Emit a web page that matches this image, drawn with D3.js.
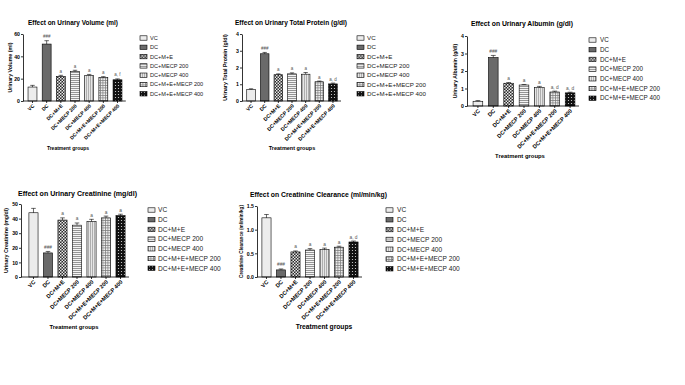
<!DOCTYPE html>
<html><head><meta charset="utf-8">
<script src="https://cdn.jsdelivr.net/npm/d3@7"></script>
<style>body{margin:0;background:#fff}svg{display:block}text{font-family:"Liberation Sans",Arial,sans-serif}</style>
</head><body><svg id="c" width="685" height="385"></svg>
<script>
const categories = ["VC","DC","DC+M+E","DC+MECP 200","DC+MECP 400","DC+M+E+MECP 200","DC+M+E+MECP 400"];

const volumeMean = [12.5, 51, 22, 26.5, 23, 21, 19];
const volumeErr  = [1.5, 3, 1, 1, 0.8, 0.8, 0.8];
const volumeSig  = ["", "###", "a", "a", "a", "a", "a, f"];
const volumeTicks = [0, 20, 40, 60];

const proteinMean = [0.68, 2.82, 1.57, 1.62, 1.6, 1.15, 1.02];
const proteinErr  = [0.05, 0.08, 0.05, 0.06, 0.1, 0.04, 0.05];
const proteinSig  = ["", "###", "a", "a", "a", "a", "a, d"];
const proteinTicks = [0, 1, 2, 3, 4];

const albuminMean = [0.27, 2.77, 1.3, 1.2, 1.05, 0.8, 0.75];
const albuminErr  = [0.04, 0.12, 0.04, 0.03, 0.07, 0.05, 0.04];
const albuminSig  = ["", "###", "a", "a", "a", "a, d", "a, d"];
const albuminTicks = [0, 1, 2, 3, 4];

const creatMean = [44, 16.5, 39, 35.5, 38, 40.5, 42];
const creatErr  = [3, 1, 1.5, 1.5, 1.5, 1.2, 1];
const creatSig  = ["", "###", "a", "a", "a", "a", "a"];
const creatTicks = [0, 10, 20, 30, 40, 50];

const clearMean = [1.25, 0.15, 0.53, 0.57, 0.58, 0.63, 0.74];
const clearErr  = [0.07, 0.02, 0.02, 0.03, 0.03, 0.02, 0.02];
const clearSig  = ["", "###", "a", "a", "a", "a", "a, d"];
const clearTicks = [0, 0.5, 1.0, 1.5];

const svg = d3.select("#c");
const defs = svg.append("defs");
function pat(id, w, h, build) {
  const p = defs.append("pattern").attr("id", id).attr("patternUnits", "userSpaceOnUse").attr("width", w).attr("height", h);
  build(p);
}
pat("p0", 4, 4, p => p.append("rect").attr("width", 4).attr("height", 4).attr("fill", "#ececec"));
pat("p1", 4, 4, p => p.append("rect").attr("width", 4).attr("height", 4).attr("fill", "#6a6a6a"));
pat("p2", 3, 3, p => {
  p.append("rect").attr("width", 3).attr("height", 3).attr("fill", "#2a2a2a");
  p.append("rect").attr("x", 0).attr("y", 0).attr("width", 1.5).attr("height", 1.5).attr("fill", "#e8e8e8");
  p.append("rect").attr("x", 1.5).attr("y", 1.5).attr("width", 1.5).attr("height", 1.5).attr("fill", "#e8e8e8");
});
pat("p3", 2, 2, p => {
  p.append("rect").attr("width", 2).attr("height", 2).attr("fill", "#f4f4f4");
  p.append("rect").attr("width", 2).attr("height", 0.9).attr("fill", "#8a8a8a");
});
pat("p4", 2, 2, p => {
  p.append("rect").attr("width", 2).attr("height", 2).attr("fill", "#e6e6e6");
  p.append("rect").attr("width", 0.8).attr("height", 2).attr("fill", "#a0a0a0");
});
pat("p5", 2.5, 2.5, p => {
  p.append("rect").attr("width", 2.5).attr("height", 2.5).attr("fill", "#eeeeee");
  p.append("rect").attr("width", 2.5).attr("height", 0.7).attr("fill", "#7a7a7a");
  p.append("rect").attr("width", 0.7).attr("height", 2.5).attr("fill", "#7a7a7a");
});
pat("p6", 3, 3, p => {
  p.append("rect").attr("width", 3).attr("height", 3).attr("fill", "#111");
  p.append("circle").attr("cx", 1.5).attr("cy", 1.5).attr("r", 0.6).attr("fill", "#ddd");
});

function panel(L, title, yLabel, mean, err, sig, ticks, fmt) {
  const g = svg.append("g");
  const x = d3.scaleBand().domain(categories).range(L.xr).paddingInner(0.37).paddingOuter(0.2);
  const y = d3.scaleLinear().domain([0, ticks[ticks.length - 1]]).range([L.y0, L.y1]);
  const bw = x.bandwidth();

  g.selectAll("rect.bar").data(categories).join("rect").attr("class", "bar")
    .attr("x", d => x(d)).attr("y", (d, i) => y(mean[i]))
    .attr("width", bw).attr("height", (d, i) => y(0) - y(mean[i]))
    .attr("fill", (d, i) => `url(#p${i})`).attr("stroke", "#000").attr("stroke-width", 0.6);

  const eb = g.selectAll("g.eb").data(categories).join("g").attr("class", "eb");
  eb.append("line").attr("x1", d => x(d) + bw / 2).attr("x2", d => x(d) + bw / 2)
    .attr("y1", (d, i) => y(mean[i])).attr("y2", (d, i) => y(mean[i] + err[i]))
    .attr("stroke", "#000").attr("stroke-width", 0.6);
  eb.append("line").attr("x1", d => x(d) + bw * 0.25).attr("x2", d => x(d) + bw * 0.75)
    .attr("y1", (d, i) => y(mean[i] + err[i])).attr("y2", (d, i) => y(mean[i] + err[i]))
    .attr("stroke", "#000").attr("stroke-width", 0.6);

  g.selectAll("text.sig").data(categories).join("text").attr("class", "sig")
    .attr("x", d => x(d) + bw / 2).attr("y", (d, i) => y(mean[i] + err[i]) - 2.5)
    .attr("text-anchor", "middle").attr("font-size", L.sfs).attr("fill", "#555")
    .text((d, i) => sig[i]);

  const ya = g.append("g").attr("transform", `translate(${L.ax},0)`)
    .call(d3.axisLeft(y).tickValues(ticks).tickSize(2).tickSizeOuter(0).tickFormat(fmt));
  ya.select(".domain").attr("stroke-width", 0.8);
  ya.selectAll(".tick line").attr("stroke-width", 0.8);
  ya.selectAll("text").attr("font-size", L.tfs).attr("font-weight", "bold")
    .attr("font-family", '"Liberation Sans",Arial,sans-serif').attr("x", -3);

  const xa = g.append("g").attr("transform", `translate(0,${L.y0})`)
    .call(d3.axisBottom(x).tickSize(2).tickSizeOuter(0));
  xa.select(".domain").remove();
  xa.selectAll(".tick line").attr("stroke-width", 0.8);
  g.append("line").attr("x1", L.ax).attr("x2", L.xr[1] + 1).attr("y1", L.y0).attr("y2", L.y0)
    .attr("stroke", "#000").attr("stroke-width", 0.8);
  xa.selectAll("text").attr("x", 0).attr("y", 0).attr("dy", "0.35em")
    .attr("transform", "translate(1,4) rotate(-45)").attr("text-anchor", "end")
    .attr("font-size", L.xfs).attr("font-weight", "bold")
    .attr("font-family", '"Liberation Sans",Arial,sans-serif');

  // title with width fitted to the reference
  g.append("text").attr("x", L.tx0 + L.tw / 2).attr("y", L.ty).attr("text-anchor", "middle")
    .attr("font-size", L.titfs).attr("font-weight", "bold")
    .attr("textLength", L.tw).attr("lengthAdjust", "spacingAndGlyphs").text(title);
  g.append("text").attr("transform", `translate(${L.ylx},${(L.y0 + L.y1) / 2}) rotate(-90)`)
    .attr("text-anchor", "middle").attr("font-size", L.ylfs).attr("font-weight", "bold").text(yLabel);
  g.append("text").attr("x", L.gx).attr("y", L.gy).attr("text-anchor", "middle")
    .attr("font-size", L.gfs).attr("font-weight", "bold").text("Treatment groups");

  const lg = g.selectAll("g.lg").data(categories).join("g").attr("class", "lg")
    .attr("transform", (d, i) => `translate(${L.lx},${L.ly + i * L.lsp})`);
  lg.append("rect").attr("x", 0).attr("y", -2.2).attr("width", 7).attr("height", 4.4)
    .attr("fill", (d, i) => `url(#p${i})`).attr("stroke", "#000").attr("stroke-width", 0.6);
  lg.append("text").attr("x", L.ltx).attr("y", 0).attr("dy", "0.35em")
    .attr("font-size", L.lfs).attr("fill", "#222").text(d => d);
}

const f0 = d3.format("d"), f1 = d3.format(".1f");

panel({ax: 23, xr: [25.2, 124.8], y0: 101, y1: 34, tx0: 28, tw: 90, ty: 25, titfs: 6.4, ylx: 12, ylfs: 5.3,
       gx: 68, gy: 150, gfs: 5, tfs: 5.2, xfs: 5, sfs: 4.5, lx: 140, ly: 38, lsp: 9.3, ltx: 10, lfs: 5.6},
      "Effect on Urinary Volume (ml)", "Urinary Volume (ml)", volumeMean, volumeErr, volumeSig, volumeTicks, f0);

panel({ax: 242, xr: [244, 340], y0: 101, y1: 34, tx0: 235, tw: 112, ty: 25, titfs: 6.4, ylx: 227, ylfs: 5.3,
       gx: 292, gy: 150, gfs: 5.5, tfs: 5.2, xfs: 5.2, sfs: 4.5, lx: 357, ly: 38, lsp: 9.3, ltx: 10, lfs: 6.2},
      "Effect on Urinary Total Protein (g/dl)", "Urinary Total Protein (g/dl)", proteinMean, proteinErr, proteinSig, proteinTicks, f0);

panel({ax: 467, xr: [470, 578], y0: 106, y1: 36, tx0: 471, tw: 102, ty: 26, titfs: 6.8, ylx: 457, ylfs: 5.2,
       gx: 520, gy: 158, gfs: 5.9, tfs: 5.2, xfs: 5.6, sfs: 4.8, lx: 589, ly: 40, lsp: 9.7, ltx: 11, lfs: 6.3},
      "Effect on Urinary Albumin (g/dl)", "Urinary Albumin (g/dl)", albuminMean, albuminErr, albuminSig, albuminTicks, f0);

panel({ax: 21, xr: [26, 128], y0: 277, y1: 204, tx0: 18, tw: 119, ty: 196, titfs: 6.7, ylx: 8, ylfs: 5.3,
       gx: 74, gy: 329, gfs: 5.8, tfs: 5.2, xfs: 5.6, sfs: 4.8, lx: 148, ly: 210, lsp: 9.7, ltx: 10, lfs: 6.6},
      "Effect on Urinary Creatinine (mg/dl)", "Urinary Creatinine (mg/dl)", creatMean, creatErr, creatSig, creatTicks, f0);

panel({ax: 257, xr: [259, 361], y0: 277, y1: 206, tx0: 250, tw: 137, ty: 197, titfs: 6.8, ylx: 243, ylfs: 4.7,
       gx: 324, gy: 329, gfs: 6.7, tfs: 5.2, xfs: 5.6, sfs: 4.8, lx: 386, ly: 210, lsp: 9.8, ltx: 11, lfs: 6.6},
      "Effect on Creatinine Clearance (ml/min/kg)", "Creatinine Clearance (ml/min/kg)", clearMean, clearErr, clearSig, clearTicks, f1);
</script>
</body></html>
